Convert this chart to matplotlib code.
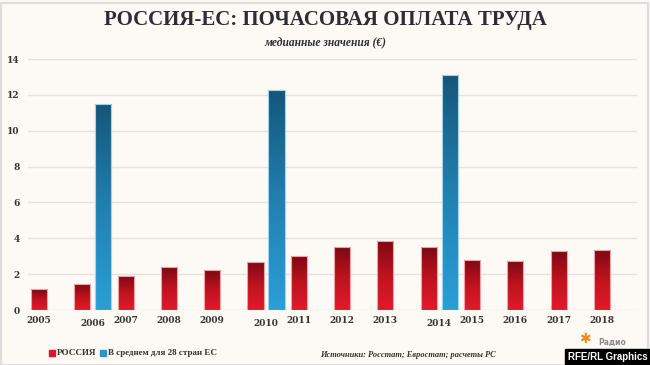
import numpy as np
import matplotlib
matplotlib.use("Agg")
import matplotlib.pyplot as plt
from matplotlib.colors import LinearSegmentedColormap
from matplotlib.patches import Rectangle

years = ["2005", "2006", "2007", "2008", "2009", "2010", "2011", "2012",
         "2013", "2014", "2015", "2016", "2017", "2018"]
russia = [1.17, 1.43, 1.90, 2.38, 2.21, 2.69, 2.99, 3.51, 3.83, 3.51, 2.79, 2.75, 3.29, 3.35]
eu_years = ["2006", "2010", "2014"]
eu28 = [11.47, 12.25, 13.12]
yticks = [0, 2, 4, 6, 8, 10, 12, 14]

title = "РОССИЯ-ЕС: ПОЧАСОВАЯ ОПЛАТА ТРУДА"
subtitle = "медианные значения (€)"
legend_labels = ["РОССИЯ", "В среднем для 28 стран ЕС"]
source = "Источники: Росстат; Евростат; расчеты РС"

BG = "#fdf9f4"
W, H = 650, 365
fig = plt.figure(figsize=(W / 100, H / 100), dpi=100, facecolor=BG)
ax = fig.add_axes([28 / W, (H - 310) / H, (637 - 28) / W, (310 - 59) / H])
ax.set_facecolor(BG)

x = np.arange(len(years))
bw = 0.37
off = 0.485

red_cmap = LinearSegmentedColormap.from_list("r", ["#e01a2c", "#c0131f", "#7c0913"])
blue_cmap = LinearSegmentedColormap.from_list("b", ["#2a9fd8", "#2180b0", "#155679"])

def grad_bars(bars, cmap, edge):
    for b in bars:
        b.set_facecolor("none")
        b.set_edgecolor(edge)
        b.set_linewidth(0.8)
        x0, y0 = b.get_x(), b.get_y()
        w, h = b.get_width(), b.get_height()
        grad = np.linspace(0, 1, 256).reshape(-1, 1)
        im = ax.imshow(grad, cmap=cmap, aspect="auto", origin="lower",
                       extent=[x0, x0 + w, y0, y0 + h], zorder=2)
        im.set_clip_path(b)

rb = ax.bar(x, russia, width=bw, zorder=3)
grad_bars(rb, red_cmap, "#f2a0a8")

eu_idx = np.array([years.index(y) for y in eu_years])
bb = ax.bar(eu_idx + off, eu28, width=bw, zorder=3)
grad_bars(bb, blue_cmap, "#9fd3ee")

ax.set_xlim(-0.254, 13.81)
ax.set_ylim(0, 14)
ax.set_yticks(yticks)
ax.set_yticklabels([str(t) for t in yticks])
ax.grid(axis="y", color="#e7e2dc", linewidth=1.0, zorder=0)
ax.set_axisbelow(True)
for s in ax.spines.values():
    s.set_visible(False)
ax.tick_params(axis="y", length=0, pad=6, labelsize=6.5, labelcolor="#333333")
ax.tick_params(axis="x", length=0, pad=4, labelsize=6.5, labelcolor="#333333")
for lab in ax.get_yticklabels():
    lab.set_fontfamily("DejaVu Serif")
    lab.set_fontweight("bold")

xpos = [i + (off / 2 if years[i] in eu_years else 0) for i in x]
ax.set_xticks(xpos)
ax.set_xticklabels(years, fontfamily="DejaVu Serif", fontweight="bold")
for i, lab in enumerate(ax.get_xticklabels()):
    if years[i] in eu_years:
        lab.set_y(-0.012)

fig.text(0.5, (H - 20) / H, title, ha="center", va="center",
         fontsize=15, fontweight="bold", family="Liberation Serif",
         color="#2d2d33")
fig.text(0.5, (H - 43) / H, subtitle, ha="center", va="center",
         fontsize=8.3, fontweight="bold", style="italic",
         family="Liberation Serif", color="#2d2d33")

# legend
fig.patches.append(Rectangle((49 / W, (H - 356) / H), 6 / W, 6 / H,
                             transform=fig.transFigure, color="#d8172a"))
fig.text(57 / W, (H - 353) / H, legend_labels[0], ha="left", va="center",
         fontsize=6.5, fontweight="bold", family="Liberation Serif", color="#333333")
fig.patches.append(Rectangle((100 / W, (H - 356) / H), 6 / W, 6 / H,
                             transform=fig.transFigure, color="#2a95cf"))
fig.text(108 / W, (H - 353) / H, legend_labels[1], ha="left", va="center",
         fontsize=6.5, fontweight="bold", family="Liberation Serif", color="#333333")

fig.text(320 / W, (H - 355) / H, source, ha="left", va="center",
         fontsize=6.0, fontweight="bold", style="italic",
         family="Liberation Serif", color="#333333")

# branding
fig.text(598 / W, (H - 342) / H, "Радио", ha="left", va="center",
         fontsize=5.5, fontweight="bold", color="#8a8a8a", family="DejaVu Sans")
fig.text(585 / W, (H - 339) / H, "✱", ha="center", va="center",
         fontsize=10, color="#f08a1c", family="DejaVu Sans")
fig.patches.append(Rectangle((565 / W, 0), (W - 565) / W, 16 / H,
                             transform=fig.transFigure, color="#000000", zorder=5))
fig.text(608 / W, 8 / H, "RFE/RL Graphics", ha="center", va="center",
         fontsize=7, fontweight="bold", color="white", family="Liberation Sans",
         zorder=6)

# border
fig.patches.append(Rectangle((0.5 / W, 0.5 / H), (W - 3) / W, (H - 3) / H,
                             transform=fig.transFigure, fill=False,
                             edgecolor="#dddddd", linewidth=1.5))

fig.savefig("out.png", dpi=100, facecolor=BG)
